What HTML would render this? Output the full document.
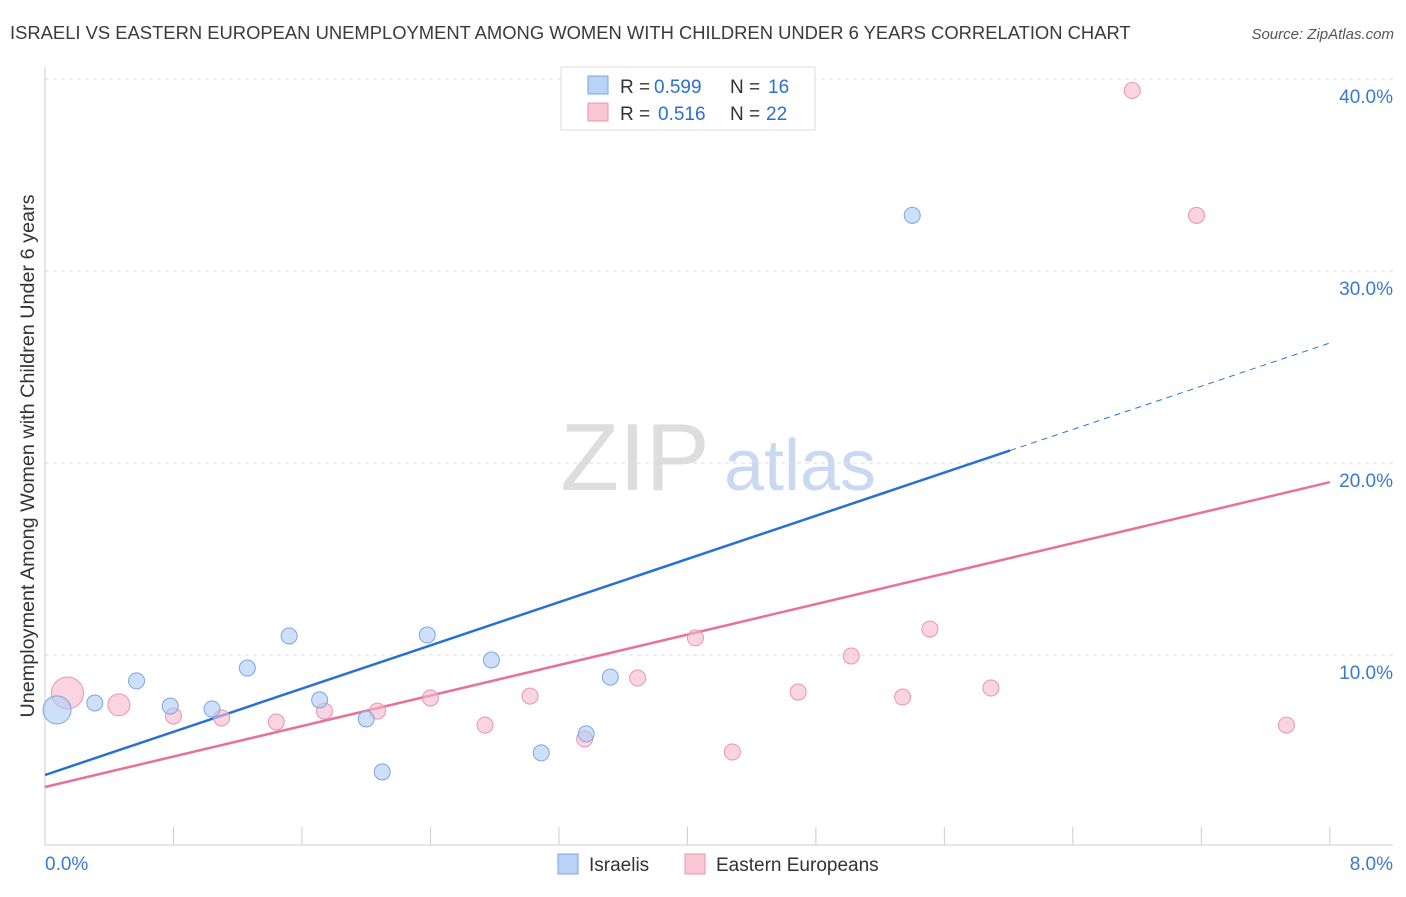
<!DOCTYPE html>
<html><head><meta charset="utf-8">
<style>
body{margin:0;background:#fff;font-family:"Liberation Sans",sans-serif;}
svg text{font-family:"Liberation Sans",sans-serif;}
</style></head>
<body>
<svg width="1406" height="892" viewBox="0 0 1406 892" id="chart">
<text x="10" y="39" font-size="18.4" fill="#3a3a3a">ISRAELI VS EASTERN EUROPEAN UNEMPLOYMENT AMONG WOMEN WITH CHILDREN UNDER 6 YEARS CORRELATION CHART</text>
<text x="1394" y="39" font-size="15" fill="#555" text-anchor="end" font-style="italic">Source: ZipAtlas.com</text>
<text x="0" y="0" transform="translate(34,456) rotate(-90)" font-size="19.8" fill="#333" text-anchor="middle">Unemployment Among Women with Children Under 6 years</text>
<g>
<text x="635" y="490" font-size="96" fill="#ddd" text-anchor="middle" font-family="Liberation Serif">ZIP</text>
<text x="800" y="490" font-size="72" fill="#c9d9f2" text-anchor="middle">atlas</text>
</g>
<g id="grid"></g><g id="axes"></g><g id="lines"></g><g id="points"></g>
<g>
<rect x="561" y="67" width="254" height="63" fill="#fff" stroke="#ddd"/>
<rect x="588" y="76" width="20" height="18" fill="#b9d3f7" stroke="#7aa6e0"/>
<text x="620" y="93" font-size="19" fill="#333">R =</text>
<text x="654" y="93" font-size="19" fill="#2a6fd6">0.599</text>
<text x="730" y="93" font-size="19" fill="#333">N =</text>
<text x="768" y="93" font-size="19" fill="#2a6fd6">16</text>
<rect x="588" y="103" width="20" height="18" fill="#f9c6d5" stroke="#e994b0"/>
<text x="620" y="120" font-size="19" fill="#333">R =</text>
<text x="658" y="120" font-size="19" fill="#2a6fd6">0.516</text>
<text x="730" y="120" font-size="19" fill="#333">N =</text>
<text x="766" y="120" font-size="19" fill="#2a6fd6">22</text>
</g>
<g>
<rect x="558" y="854" width="20" height="20" fill="#b9d3f7" stroke="#7aa6e0"/>
<text x="589" y="871" font-size="19" fill="#333">Israelis</text>
<rect x="685" y="854" width="20" height="20" fill="#f9c6d5" stroke="#e994b0"/>
<text x="716" y="871" font-size="19" fill="#333">Eastern Europeans</text>
</g>
</svg>
<script>
const yTicks=[10,20,30,40];
const yTickLabels=["10.0%","20.0%","30.0%","40.0%"];
const israeliX=[0.075,0.31,0.57,0.78,1.04,1.26,1.52,1.71,2.00,2.10,2.38,2.78,3.09,3.37,3.52,5.40];
const israeliY=[7.14,7.5,8.65,7.34,7.19,9.32,10.99,7.66,6.67,3.91,11.04,9.74,4.90,5.89,8.85,32.9];
const israeliR=[14,8,8,8,8,8,8,8,8,8,8,8,8,8,8,8];
const eeX=[0.14,0.46,0.80,1.10,1.44,1.74,2.07,2.40,2.74,3.02,3.36,3.69,4.05,4.28,4.69,5.02,5.34,5.51,5.89,6.77,7.17,7.73];
const eeY=[8.02,7.40,6.82,6.72,6.51,7.08,7.08,7.76,6.35,7.86,5.63,8.80,10.89,4.95,8.07,9.95,7.81,11.35,8.28,39.4,32.9,6.35];
const eeR=[16,11,8,8,8,8,8,8,8,8,8,8,8,8,8,8,8,8,8,8,8,8];
const israeliTrend=[3.75,26.25];
const israeliSolidEnd=6.01;
const eeTrend=[3.125,19.0];
const NS="http://www.w3.org/2000/svg";
const X=v=>45+v*160.6, Y=v=>847-v*19.2;
function mk(t,a,p){const e=document.createElementNS(NS,t);for(const k in a)e.setAttribute(k,a[k]);p.appendChild(e);return e;}
const grid=document.getElementById('grid'),axes=document.getElementById('axes'),lines=document.getElementById('lines'),pts=document.getElementById('points');
yTicks.forEach((t,i)=>{
 const l=mk('line',{x1:45,x2:1393,y1:Y(t),y2:Y(t),stroke:'#ddd','stroke-dasharray':'4,4'},grid);
 
 
 const tx=mk('text',{x:1393,y:Y(t)+24,'font-size':19,fill:'#3a78d4','text-anchor':'end'},grid);
 tx.textContent=yTickLabels[i];
 
 
});
mk('line',{x1:45,x2:45,y1:67,y2:845,stroke:'#ccc'},axes);
mk('line',{x1:45,x2:1393,y1:845,y2:845,stroke:'#ccc'},axes);
for(let i=1;i<=10;i++){const l=mk('line',{x1:X(i*0.8),x2:X(i*0.8),y1:827,y2:845,stroke:'#ccc'},axes);
 
 }
const x0=mk('text',{x:45,y:870,'font-size':19,fill:'#3a78d4'},axes);x0.textContent='0.0%';


const x8=mk('text',{x:1393,y:870,'font-size':19,fill:'#3a78d4','text-anchor':'end'},axes);x8.textContent='8.0%';


const yAt=(tr,x)=>tr[0]+(tr[1]-tr[0])*x/8;
let l=mk('line',{x1:X(0),y1:Y(israeliTrend[0]),x2:X(israeliSolidEnd),y2:Y(yAt(israeliTrend,israeliSolidEnd)),stroke:'#2a6fd6','stroke-width':2.5},lines);


l=mk('line',{x1:X(israeliSolidEnd),y1:Y(yAt(israeliTrend,israeliSolidEnd)),x2:X(8),y2:Y(israeliTrend[1]),stroke:'#2a6fd6','stroke-width':1,'stroke-dasharray':'6,5'},lines);


l=mk('line',{x1:X(0),y1:Y(eeTrend[0]),x2:X(8),y2:Y(eeTrend[1]),stroke:'#e8709a','stroke-width':2.5},lines);


eeX.forEach((x,i)=>{const c=mk('circle',{cx:X(x),cy:Y(eeY[i]),r:eeR[i],fill:'rgba(247,184,203,0.6)',stroke:'#e994b0'},pts);
 
 });
israeliX.forEach((x,i)=>{const c=mk('circle',{cx:X(x),cy:Y(israeliY[i]),r:israeliR[i],fill:'rgba(174,203,245,0.6)',stroke:'#7aa6e0'},pts);
 
 });
</script>
</body></html>
